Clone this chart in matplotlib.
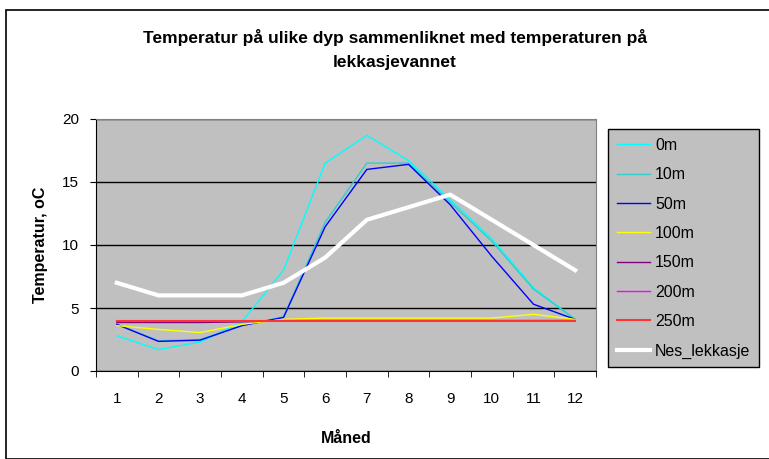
import matplotlib.pyplot as plt
import matplotlib.patches as mpatches
from matplotlib.ticker import FixedLocator

plt.rcParams['font.family'] = ['Liberation Sans', 'DejaVu Sans']

months = [1, 2, 3, 4, 5, 6, 7, 8, 9, 10, 11, 12]
month_labels = [str(m) for m in months]

t_0m = [2.8, 1.7, 2.3, 3.9, 8.0, 16.5, 18.7, 16.7, 13.6, 10.5, 6.6, 4.1]
t_10m = [3.7, 2.4, 2.5, 3.6, 4.3, 11.8, 16.5, 16.5, 13.4, 10.3, 6.5, 4.1]
t_50m = [3.7, 2.35, 2.45, 3.6, 4.25, 11.45, 16.0, 16.4, 13.2, 9.1, 5.3, 4.1]
t_100m = [3.6, 3.3, 3.05, 3.7, 4.1, 4.2, 4.2, 4.2, 4.2, 4.2, 4.5, 4.1]
t_150m = [3.85, 3.85, 3.85, 3.9, 4.0, 4.0, 4.0, 4.0, 4.0, 4.0, 4.0, 4.0]
t_200m = [3.95, 3.95, 3.95, 3.95, 4.0, 4.0, 4.0, 4.0, 4.0, 4.0, 4.0, 4.0]
t_250m = [4.0, 4.0, 4.0, 4.0, 4.0, 4.0, 4.0, 4.0, 4.0, 4.0, 4.0, 4.0]
nes_lekkasje = [7, 6, 6, 6, 7, 9, 12, 13, 14, 12, 10, 8]

series = [
    ("0m", t_0m, "#00FFFF", 1.0),
    ("10m", t_10m, "#33CCCC", 1.0),
    ("50m", t_50m, "#0000FF", 1.0),
    ("100m", t_100m, "#FFFF00", 1.0),
    ("150m", t_150m, "#800080", 1.0),
    ("200m", t_200m, "#FF00FF", 1.0),
    ("250m", t_250m, "#FF3333", 1.5),
    ("Nes_lekkasje", nes_lekkasje, "#FFFFFF", 3.0),
]

fig = plt.figure(figsize=(7.69, 4.59), dpi=100)
fig.patches.append(mpatches.Rectangle((6 / 769, 0), 1, 1 - 10 / 459, transform=fig.transFigure,
                                      fill=False, edgecolor='black', linewidth=1.2))

ax = fig.add_axes([96 / 769, 1 - 371 / 459, 500 / 769, 252 / 459])
ax.set_facecolor('#C0C0C0')

for name, vals, color, lw in series:
    ax.plot(months, vals, color=color, linewidth=lw, label=name)

ax.set_xlim(0.5, 12.5)
ax.set_ylim(0, 20)
ax.set_yticks([0, 5, 10, 15, 20])
ax.set_xticks(months)
ax.set_xticklabels(month_labels)
ax.xaxis.set_minor_locator(FixedLocator([m + 0.5 for m in range(0, 13)]))
ax.tick_params(axis='x', which='major', length=0, pad=15, labelsize=11)
ax.tick_params(axis='x', which='minor', length=4, direction='out')
ax.tick_params(axis='y', length=4, direction='out', labelsize=11, pad=8)
ax.yaxis.grid(True, color='black', linewidth=1.0)
ax.set_axisbelow(True)

for side in ['top', 'right']:
    ax.spines[side].set_color('#808080')
for side in ['left', 'bottom']:
    ax.spines[side].set_color('black')

ax.set_xlabel('Måned', fontsize=11.5, fontweight='bold', labelpad=18)
ax.set_ylabel('Temperatur, oC', fontsize=11.5, fontweight='bold', labelpad=10)

fig.text(395 / 769, 1 - 37 / 459, 'Temperatur på ulike dyp sammenliknet med temperaturen på',
         ha='center', va='center', fontsize=12.5, fontweight='bold')
fig.text(395 / 769, 1 - 62 / 459, 'lekkasjevannet',
         ha='center', va='center', fontsize=12.5, fontweight='bold')

leg = ax.legend(loc='upper left', bbox_to_anchor=(608 / 769, 1 - 129 / 459),
                bbox_transform=fig.transFigure, fontsize=11.5, frameon=True,
                fancybox=False, handlelength=2.1, handletextpad=0.3,
                labelspacing=0.9, borderpad=0.55, borderaxespad=0)
leg.get_frame().set_facecolor('#C0C0C0')
leg.get_frame().set_edgecolor('black')
leg.get_frame().set_alpha(1)

fig.savefig('out.png', dpi=100)
